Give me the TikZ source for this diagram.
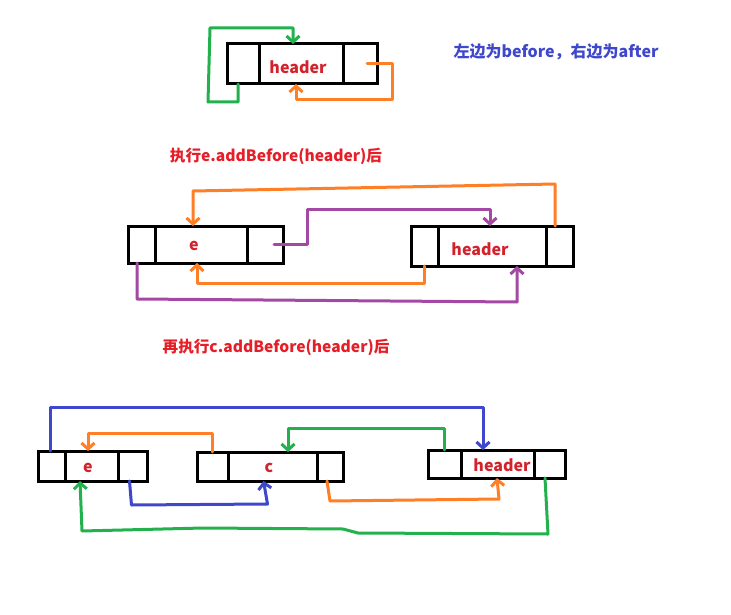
\documentclass[tikz,border=0pt]{standalone}
\usepackage{fontspec}
\setmainfont{Noto Sans CJK SC}
\usetikzlibrary{arrows.meta}
\definecolor{pgreen}{RGB}{34,177,76}
\definecolor{porange}{RGB}{255,127,39}
\definecolor{ppurple}{RGB}{163,73,164}
\definecolor{pblue}{RGB}{63,72,204}
\definecolor{pred}{RGB}{230,30,40}
\definecolor{lred}{RGB}{210,35,45}
\begin{document}
\begin{tikzpicture}[x=1pt,y=-1pt,
  cell/.style={draw=black,line width=3pt,inner sep=0pt,outer sep=0pt},
  lbl/.style={text=lred,font=\fontsize{16}{18}\selectfont\bfseries,inner sep=0pt},
  title/.style={text=pred,font=\fontsize{15.6}{18}\selectfont\bfseries,inner sep=0pt},
  note/.style={text=pblue,font=\fontsize{16}{18}\selectfont\bfseries,inner sep=0pt},
  link/.style={line width=3pt,line join=round,line cap=round,-{Straight Barb[length=6pt,width=13pt,line width=3pt]}}]
\useasboundingbox[fill=white] (0,0) rectangle (731,615);

% ---------- diagram 1 ----------
\node[cell,minimum width=32pt,minimum height=40pt] (d1l) at (243,64) {};
\node[cell,minimum width=84pt,minimum height=40pt] (d1m) at (301,64) {};
\node[cell,minimum width=34pt,minimum height=40pt] (d1r) at (360,64) {};
\node[lbl] (d1t) at (298,67) {header};
\draw[link,pgreen] ([xshift=-5pt]d1l.south) -- ++(0,18) -- ++(-30,0) -- ++(2,-74) -| ([xshift=-8pt]d1m.north);
\draw[link,porange] ([xshift=7pt]d1r.center) -- ++(25,0) -- ++(0,36) -| ([xshift=-5pt]d1m.south);
\node[note] (n1) at (556,52) {左边为before，右边为after};

% ---------- title 2 ----------
\node[title] (t2) at (276,156) {执行e.addBefore(header)后};

% ---------- diagram 2 ----------
\node[cell,minimum width=27pt,minimum height=37pt] (d2el) at (141.5,244.5) {};
\node[cell,minimum width=92pt,minimum height=37pt] (d2em) at (201,244.5) {};
\node[cell,minimum width=36pt,minimum height=37pt] (d2er) at (265,244.5) {};
\node[lbl] (d2et) at (194,246) {e};
\node[cell,minimum width=27pt,minimum height=40pt] (d2hl) at (424.5,246) {};
\node[cell,minimum width=108pt,minimum height=40pt] (d2hm) at (492,246) {};
\node[cell,minimum width=27pt,minimum height=40pt] (d2hr) at (559.5,246) {};
\node[lbl] (d2ht) at (480,249) {header};
\draw[link,porange] ([xshift=-4.5pt]d2hr.north) -- ++(0,-42) -- ++(-362,7) -- ([xshift=-8pt]d2em.north);
\draw[link,porange] (d2hl.south) -- ++(0,17) -| ([xshift=-4pt]d2em.south);
\draw[link,ppurple] ([xshift=9pt]d2er.center) -- ++(33,0) -- ++(0,-35) -| ([xshift=-2pt]d2hm.north);
\draw[link,ppurple] ([xshift=-4.5pt]d2el.south) -- ++(0,36) -- ++(380,3) -- ([xshift=25pt]d2hm.south);

% ---------- title 3 ----------
\node[title] (t3) at (276,347) {再执行c.addBefore(header)后};

% ---------- diagram 3 ----------
\node[cell,minimum width=27pt,minimum height=30pt] (d3el) at (51.5,466) {};
\node[cell,minimum width=53pt,minimum height=30pt] (d3em) at (91.5,466) {};
\node[cell,minimum width=29pt,minimum height=30pt] (d3er) at (132.5,466) {};
\node[lbl] (d3et) at (88,468) {e};
\node[cell,minimum width=31pt,minimum height=29pt] (d3cl) at (212.5,466.5) {};
\node[cell,minimum width=89pt,minimum height=29pt] (d3cm) at (272.5,466.5) {};
\node[cell,minimum width=26pt,minimum height=29pt] (d3cr) at (330,466.5) {};
\node[lbl] (d3ct) at (269,468) {c};
\node[cell,minimum width=33pt,minimum height=28pt] (d3hl) at (444.5,464) {};
\node[cell,minimum width=73pt,minimum height=28pt] (d3hm) at (497.5,464) {};
\node[cell,minimum width=31pt,minimum height=28pt] (d3hr) at (549.5,464) {};
\node[lbl] (d3ht) at (502,465) {header};
\draw[link,pblue] ([xshift=-1.5pt]d3el.north) -- ++(0,-44) -| ([xshift=-14.5pt]d3hm.north);
\draw[link,porange] (d3cl.north) -- ++(0,-19) -| ([xshift=-3.5pt]d3em.north);
\draw[link,pgreen] (d3hl.north) -- ++(0,-22) -| ([xshift=15.5pt]d3cm.north);
\draw[link,pblue] ([xshift=-3pt]d3er.south) -- ++(2,24) -- ++(136,-1) -- ([xshift=-9pt]d3cm.south);
\draw[link,porange] ([xshift=-3pt]d3cr.south) -- ++(3,20) -- ++(169,-2) -- ([xshift=-0.5pt]d3hm.south);
\draw[link,pgreen] ([xshift=-4.5pt]d3hr.south) -- ++(3,56) -- ++(-190,-1) -- ++(-15,-4) -- ++(-140,-1) -- ++(-121,3) -- ([xshift=-11.5pt]d3em.south);
\end{tikzpicture}
\end{document}
